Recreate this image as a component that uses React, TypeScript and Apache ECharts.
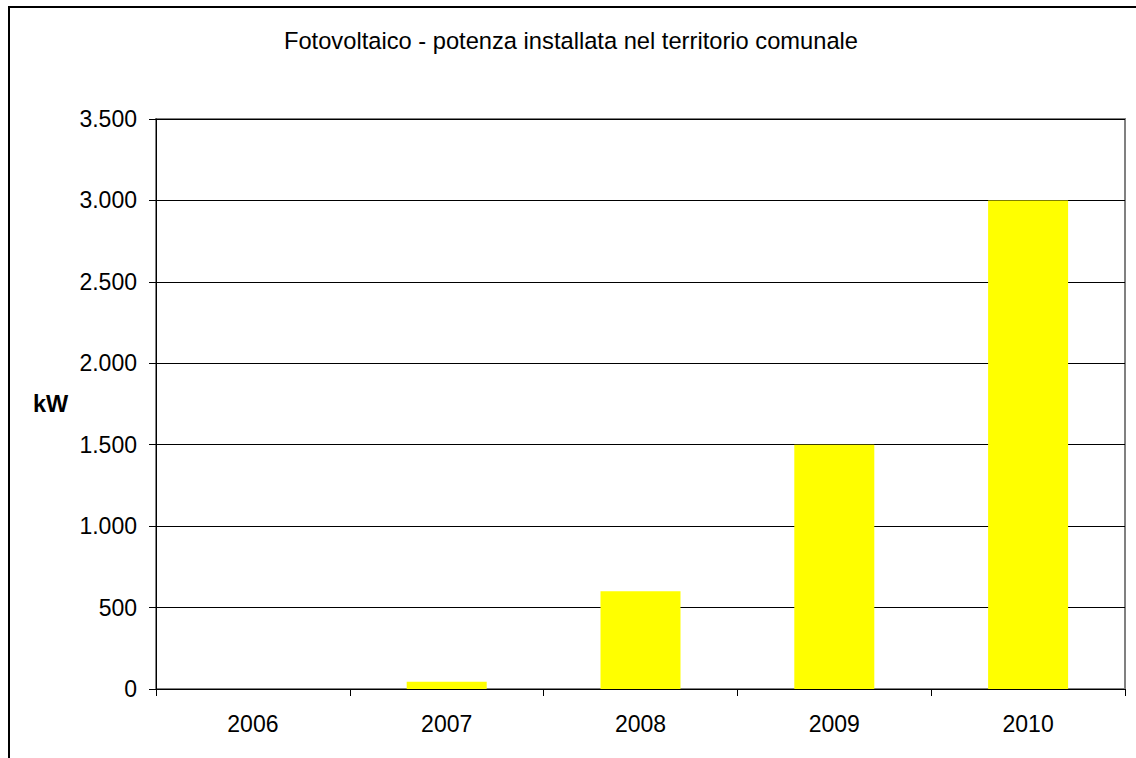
import React, { useEffect, useRef } from "react";
import * as echarts from "echarts";

const categories = ["2006", "2007", "2008", "2009", "2010"];
const values = [0, 45, 600, 1500, 3000];
const titleText = "Fotovoltaico - potenza installata nel territorio comunale";
const yAxisName = "kW";

const fmt = (v: number) => String(v).replace(/\B(?=(\d{3})+(?!\d))/g, ".");

export default function App() {
  const ref = useRef<HTMLDivElement>(null);
  useEffect(() => {
    document.body.style.margin = "0";
    const chart = echarts.init(ref.current!, null, { renderer: "svg" });
    const font = "'Liberation Sans', Arial, sans-serif";
    chart.setOption({
      animation: false,
      backgroundColor: "#fff",
      textStyle: { fontFamily: font },
      graphic: [
        {
          type: "rect",
          shape: { x: 9, y: 7, width: 1200, height: 800 },
          style: { fill: "none", stroke: "#000", lineWidth: 2 },
          silent: true,
        },
        {
          type: "text",
          x: 571,
          y: 41,
          style: {
            text: titleText,
            font: `normal 23.7px ${font}`,
            fill: "#000",
            align: "center",
            verticalAlign: "middle",
          },
        },
        {
          type: "text",
          x: 33,
          y: 404,
          style: {
            text: yAxisName,
            font: `bold 23.5px ${font}`,
            fill: "#000",
            verticalAlign: "middle",
          },
        },
      ],
      grid: {
        left: 156,
        top: 119,
        right: 11,
        bottom: 69,
        show: true,
        borderColor: "#808080",
        borderWidth: 2,
      },
      xAxis: {
        type: "category",
        data: categories,
        axisLine: { lineStyle: { color: "#000", width: 1 } },
        axisTick: { show: true, length: 7, lineStyle: { color: "#000" } },
        axisLabel: { color: "#000", fontSize: 23, margin: 23, fontFamily: font },
      },
      yAxis: {
        type: "value",
        min: 0,
        max: 3500,
        interval: 500,
        axisLine: { show: true, lineStyle: { color: "#000", width: 1 } },
        axisTick: { show: true, length: 7, lineStyle: { color: "#000" } },
        axisLabel: { color: "#000", fontSize: 23, margin: 19, fontFamily: font, formatter: fmt },
        splitLine: { show: true, lineStyle: { color: "#000", width: 1 } },
      },
      series: [
        {
          type: "bar",
          data: values,
          barWidth: 80,
          itemStyle: { color: "#ffff00" },
        },
      ],
    });
    return () => chart.dispose();
  }, []);
  return <div ref={ref} style={{ width: 1136, height: 758 }} />;
}
